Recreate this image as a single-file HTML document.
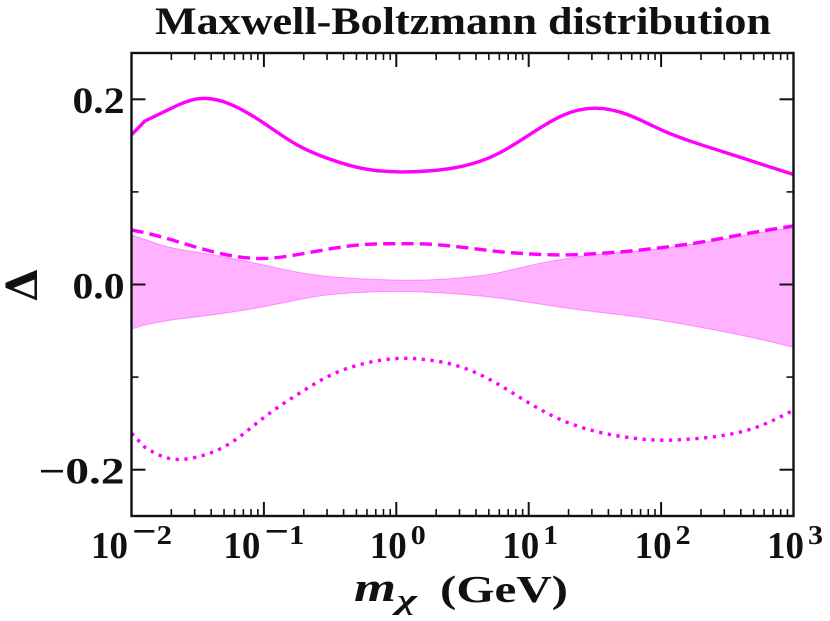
<!DOCTYPE html>
<html>
<head>
<meta charset="utf-8">
<style>
html,body{margin:0;padding:0;background:#fff;width:830px;height:621px;overflow:hidden}
svg{display:block}
text{font-family:"Liberation Serif","DejaVu Serif",serif;font-weight:bold;fill:#111}
</style>
</head>
<body>
<svg id="chart" width="830" height="621" viewBox="0 0 830 621" xmlns="http://www.w3.org/2000/svg">
<defs><clipPath id="plot-clip"><rect x="131.5" y="53" width="662" height="463"/></clipPath></defs>
<rect width="830" height="621" fill="#fff"/>
<text x="155" y="34" font-size="39" textLength="616" lengthAdjust="spacingAndGlyphs">Maxwell-Boltzmann distribution</text>
<g id="plot" clip-path="url(#plot-clip)"></g>
<g id="ticks"></g>
<rect x="131.5" y="53" width="662" height="463" fill="none" stroke="#111" stroke-width="2.4"/>
<g id="labels"></g>
<g>
<text x="354" y="601" font-size="41" font-style="italic" textLength="42" lengthAdjust="spacingAndGlyphs">m</text>
<text x="397" y="609" font-size="28" font-style="italic" textLength="20" lengthAdjust="spacingAndGlyphs">χ</text>
<text x="440" y="602" font-size="38" textLength="128" lengthAdjust="spacingAndGlyphs">(GeV)</text>
</g>
<text transform="translate(37,285) rotate(-90)" text-anchor="middle" font-size="43" style="font-family:'DejaVu Serif',serif">Δ</text>
</svg>
<script>
var logMass = [-2,-1.9,-1.75,-1.5,-1.25,-1,-0.75,-0.5,-0.25,0,0.25,0.5,0.75,1,1.25,1.5,1.75,2,2.25,2.5,2.75,3];
var solidValues = [0.1616,0.1764,0.1868,0.2005,0.1945,0.1742,0.1508,0.1353,0.1252,0.1217,0.1227,0.1278,0.14,0.1612,0.1822,0.1904,0.1833,0.1671,0.1534,0.1419,0.1303,0.1188];
var dashedValues = [0.0589,0.056,0.0504,0.0398,0.0312,0.0281,0.0322,0.0385,0.0431,0.0441,0.0435,0.0402,0.0359,0.0331,0.0319,0.0333,0.0359,0.0398,0.0445,0.051,0.0575,0.0632];
var dottedValues = [-0.1605,-0.1757,-0.1865,-0.1861,-0.171,-0.1436,-0.1191,-0.0982,-0.0856,-0.08,-0.0816,-0.0896,-0.1061,-0.1278,-0.1465,-0.1584,-0.1652,-0.1681,-0.1666,-0.1623,-0.1526,-0.1357];
var bandUpper = [0.0535,0.0488,0.0416,0.0348,0.0283,0.0211,0.0135,0.0085,0.0061,0.0047,0.005,0.0074,0.0121,0.0203,0.0272,0.0322,0.0351,0.0387,0.0438,0.0495,0.056,0.0614];
var bandLower = [-0.0481,-0.0438,-0.0395,-0.0348,-0.03,-0.024,-0.0167,-0.011,-0.0085,-0.0074,-0.0085,-0.0106,-0.0142,-0.0193,-0.0247,-0.0294,-0.0337,-0.0387,-0.0449,-0.0517,-0.0593,-0.0679];
var xTickExponents = [-2,-1,0,1,2,3];
var xTickLabels = ["−2","−1","0","1","2","3"];
var yMajorTicks = [0.2,0,-0.2];
var yMinorTicks = [0.1,-0.1];
var yTickLabels = ["0.2","0.0","−0.2"];

var NS = "http://www.w3.org/2000/svg";
var L = 131.5, R = 793.5, T = 53, B = 516;
function xScale(e){ return L + (e + 2) / 5 * (R - L); }
function yScale(v){ return (T + B) / 2 - v / 0.5 * (B - T); }
function make(tag, attrs, parent){
  var el = document.createElementNS(NS, tag);
  for (var k in attrs) el.setAttribute(k, attrs[k]);
  parent.appendChild(el);
  return el;
}
/* C2 cubic spline tangents through the points */
function tangents(p){
  var n = p.length, h = [], d = [], a = [], b = [], c = [], r = [], i;
  for (i = 0; i < n - 1; i++){
    h.push(p[i + 1][0] - p[i][0]);
    d.push((p[i + 1][1] - p[i][1]) / h[i]);
  }
  a[0] = 0; b[0] = 2; c[0] = 1; r[0] = 3 * d[0];
  for (i = 1; i < n - 1; i++){
    a[i] = h[i]; b[i] = 2 * (h[i - 1] + h[i]); c[i] = h[i - 1];
    r[i] = 3 * (h[i] * d[i - 1] + h[i - 1] * d[i]);
  }
  a[n - 1] = 1; b[n - 1] = 2; c[n - 1] = 0; r[n - 1] = 3 * d[n - 2];
  for (i = 1; i < n; i++){
    var w = a[i] / b[i - 1];
    b[i] -= w * c[i - 1];
    r[i] -= w * r[i - 1];
  }
  var m = new Array(n);
  m[n - 1] = r[n - 1] / b[n - 1];
  for (i = n - 2; i >= 0; i--) m[i] = (r[i] - c[i] * m[i + 1]) / b[i];
  return m;
}
function segments(xs, ys){
  var pts = xs.map(function(x, i){ return [xScale(x), yScale(ys[i])]; });
  var segs = [], i;
  /* the first interval is a straight segment, leaving a slight kink as in the source curve */
  var rest = pts.slice(1), m = tangents(rest);
  var h0 = pts[1][0] - pts[0][0], s0 = (pts[1][1] - pts[0][1]) / h0;
  segs.push([pts[0], [pts[0][0] + h0 / 3, pts[0][1] + s0 * h0 / 3], [pts[1][0] - h0 / 3, pts[1][1] - s0 * h0 / 3], pts[1]]);
  for (i = 0; i < rest.length - 1; i++){
    var h = rest[i + 1][0] - rest[i][0];
    segs.push([rest[i], [rest[i][0] + h / 3, rest[i][1] + m[i] * h / 3],
      [rest[i + 1][0] - h / 3, rest[i + 1][1] - m[i + 1] * h / 3], rest[i + 1]]);
  }
  return segs;
}
function f(p){ return p[0].toFixed(2) + " " + p[1].toFixed(2); }
function forwardPath(segs){
  return segs.map(function(s){ return "C" + f(s[1]) + " " + f(s[2]) + " " + f(s[3]); }).join(" ");
}
function reversePath(segs){
  return segs.slice().reverse().map(function(s){ return "C" + f(s[2]) + " " + f(s[1]) + " " + f(s[0]); }).join(" ");
}
var plot = document.getElementById("plot");
var upSegs = segments(logMass, bandUpper), lowSegs = segments(logMass, bandLower);
var band = make("path", {
  d: "M" + f(upSegs[0][0]) + " " + forwardPath(upSegs) + " L" + f(lowSegs[lowSegs.length - 1][3]) + " " + reversePath(lowSegs) + " Z",
  fill: "#ff00ff", "fill-opacity": "0.3", stroke: "#ff00ff", "stroke-opacity": "0.35", "stroke-width": "1"
}, plot);



function line(values, dash){
  var s = segments(logMass, values);
  var attrs = { d: "M" + f(s[0][0]) + " " + forwardPath(s), fill: "none", stroke: "#ff00ff", "stroke-width": "3.4" };
  if (dash) attrs["stroke-dasharray"] = dash;
  return make("path", attrs, plot);
}
var solid = line(solidValues, null);


var dashed = line(dashedValues, "12.2 6.1");


var dotted = line(dottedValues, "3.3 5.5");



var ticks = document.getElementById("ticks");
function tick(x1, y1, x2, y2, w){
  return make("line", { x1: x1, y1: y1, x2: x2, y2: y2, stroke: "#111", "stroke-width": w }, ticks);
}
xTickExponents.forEach(function(e){
  var x = xScale(e);
  if (e > -2 && e < 3){
    var tb = tick(x, B, x, B - 14, 2);
    
    
    var tt = tick(x, T, x, T + 14, 2);
    
    
  }
  if (e < 3){
    for (var m = 2; m < 10; m++){
      var xm = xScale(e + Math.log10(m));
      var mb = tick(xm, B, xm, B - 7, 1.6);
      
      
      var mt = tick(xm, T, xm, T + 7, 1.6);
      
      
    }
  }
});
yMajorTicks.forEach(function(v){
  var y = yScale(v);
  var a = tick(L, y, L + 14, y, 2);
  
  
  var b = tick(R, y, R - 14, y, 2);
  
  
});
yMinorTicks.forEach(function(v){
  var y = yScale(v);
  var a = tick(L, y, L + 7, y, 1.6);
  
  
  var b = tick(R, y, R - 7, y, 1.6);
  
  
});

var labels = document.getElementById("labels");
xTickExponents.forEach(function(e, i){
  var supText = xTickLabels[i];
  var negative = supText.length > 1;
  var supW = negative ? 40 : 15;
  var start = xScale(e) - (37 + 4 + supW) / 2 + (negative ? 0 : 1.5);
  var t = make("text", { x: start, y: 558, "font-size": "38", textLength: 37, lengthAdjust: "spacingAndGlyphs" }, labels);
  
  
  t.textContent = "10";
  var s = make("text", { x: start + 41, y: 544, "font-size": "27", textLength: supW, lengthAdjust: "spacingAndGlyphs" }, labels);
  
  
  if (negative){
    var minus = make("tspan", { "font-size": "38" }, s);
    minus.textContent = supText.charAt(0);
    s.appendChild(document.createTextNode(supText.slice(1)));
  } else {
    s.textContent = supText;
  }
});
yMajorTicks.forEach(function(v, i){
  var w = yTickLabels[i].length > 3 ? 86 : 52;
  var t = make("text", { x: 124.5 - w, y: yScale(v) + 13.8, "font-size": "37", textLength: w, lengthAdjust: "spacingAndGlyphs" }, labels);
  
  
  t.textContent = yTickLabels[i];
});
</script>
</body>
</html>
